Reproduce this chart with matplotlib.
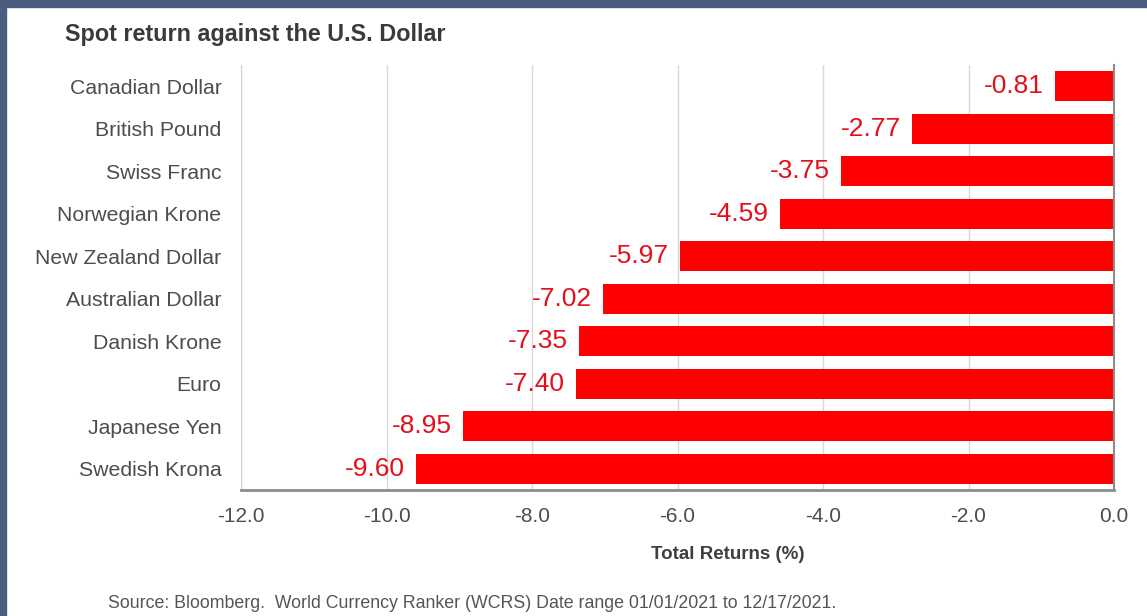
import matplotlib
matplotlib.use("Agg")
from matplotlib import pyplot as plt
from matplotlib.patches import Rectangle

currencies = ["Canadian Dollar", "British Pound", "Swiss Franc", "Norwegian Krone",
              "New Zealand Dollar", "Australian Dollar", "Danish Krone", "Euro",
              "Japanese Yen", "Swedish Krona"]
returns = [-0.81, -2.77, -3.75, -4.59, -5.97, -7.02, -7.35, -7.40, -8.95, -9.60]
x_ticks = [-12.0, -10.0, -8.0, -6.0, -4.0, -2.0, 0.0]

title = "Spot return against the U.S. Dollar"
xlabel = "Total Returns (%)"
source = "Source: Bloomberg.  World Currency Ranker (WCRS) Date range 01/01/2021 to 12/17/2021."

plt.rcParams["font.family"] = ["Liberation Sans", "DejaVu Sans"]

W, H = 1147, 616
fig = plt.figure(figsize=(W / 100, H / 100), dpi=100, facecolor="white")

# frame strips along top and left edge
frame_col = "#4a5d80"
fig.add_artist(Rectangle((0, 1 - 7 / H), 1, 7 / H, transform=fig.transFigure,
                         color=frame_col, zorder=0))
fig.add_artist(Rectangle((0, 0), 6 / W, 1, transform=fig.transFigure,
                         color=frame_col, zorder=0))

ax = fig.add_axes([241 / W, 1 - 490 / H, (1114 - 241) / W, (490 - 65) / H])

ys = list(range(len(currencies)))
ax.barh(ys, returns, height=0.7, color="#ff0000", zorder=2)

for y, v in zip(ys, returns):
    ax.annotate(f"{v:.2f}", xy=(v, y), xytext=(-8, 0), textcoords="offset points",
                ha="right", va="center", fontsize=19, color="#e3101c", zorder=3)

ax.set_xlim(-12, 0)
ax.set_ylim(len(currencies) - 0.5, -0.5)
ax.set_yticks(ys)
ax.set_yticklabels(currencies, fontsize=15.3, color="#4d4d4d")
ax.set_xticks(x_ticks)
ax.set_xticklabels([f"{t:.1f}" for t in x_ticks], fontsize=15, color="#4d4d4d")
ax.tick_params(axis="both", length=0, pad=14)
ax.tick_params(axis="x", pad=12)

ax.grid(axis="x", color="#d9d9d9", linewidth=1, zorder=0)
ax.set_axisbelow(True)
ax.spines["top"].set_visible(False)
ax.spines["left"].set_color("#d0d0d0")
ax.spines["right"].set_color("#8c8c8c")
ax.spines["right"].set_linewidth(1.5)
ax.spines["right"].set_zorder(4)
ax.spines["bottom"].set_color("#8c8c8c")
ax.spines["bottom"].set_linewidth(2)

ax.set_xlabel(xlabel, fontsize=13.5, fontweight="bold", color="#3f3f3f")
ax.xaxis.set_label_coords(0.557, -0.131)

fig.text(65 / W, 1 - 35 / H, title, fontsize=16.8, fontweight="bold",
         color="#3a3a3a", ha="left", va="center")
fig.text(108 / W, 1 - 603 / H, source, fontsize=12.8, color="#555555",
         ha="left", va="center")

fig.savefig("out.png", dpi=100, facecolor="white")
